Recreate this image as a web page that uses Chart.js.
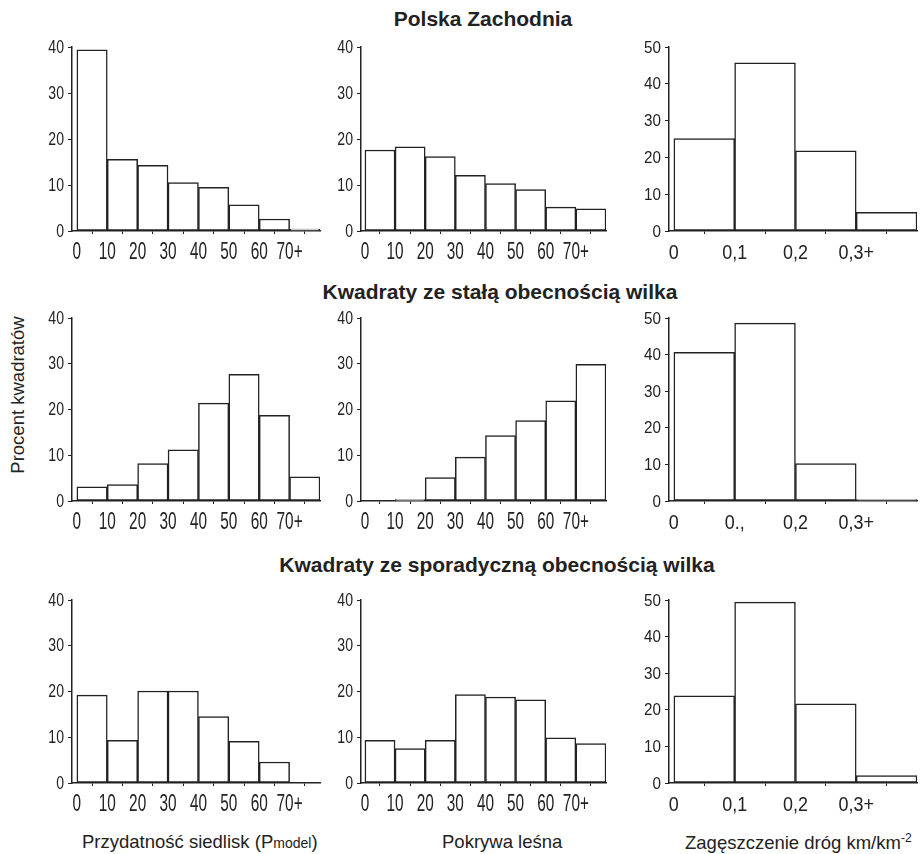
<!DOCTYPE html>
<html>
<head>
<meta charset="utf-8">
<script src="https://cdn.jsdelivr.net/npm/chart.js@4.4.0/dist/chart.umd.min.js"></script>
<style>
body { margin:0; background:#fff; width:921px; height:854px; position:relative; overflow:hidden; font-family:"Liberation Sans", Arial, sans-serif; color:#222; }
canvas { position:absolute; }
.title { position:absolute; transform:translateX(-50%); font-weight:bold; font-size:21px; line-height:normal; white-space:nowrap; }
.xlab { position:absolute; font-size:18.5px; white-space:nowrap; }
.ylab { position:absolute; font-size:18.5px; white-space:nowrap; transform:translate(-50%,-50%) rotate(-90deg); }
</style>
</head>
<body>
<div class="title" style="left:483px; top:7px;">Polska Zachodnia</div>
<div class="title" style="left:500px; top:280px;">Kwadraty ze stałą obecnością wilka</div>
<div class="title" style="left:497px; top:553px;">Kwadraty ze sporadyczną obecnością wilka</div>
<div class="ylab" style="left:18px; top:395px;">Procent kwadratów</div>
<div class="xlab" style="left:82px; top:831px;">Przydatność siedlisk (P<span style="font-size:14px">model</span>)</div>
<div class="xlab" style="left:442px; top:831px;">Pokrywa leśna</div>
<div class="xlab" style="left:685px; top:831px;">Zagęszczenie dróg km/km<sup style="font-size:12px">-2</sup></div>

<canvas id="c11" width="301" height="228" style="left:27px; top:35px;"></canvas>
<canvas id="c12" width="298" height="228" style="left:316px; top:35px;"></canvas>
<canvas id="c13" width="297" height="228" style="left:624px; top:35px;"></canvas>
<canvas id="c21" width="301" height="227" style="left:27px; top:306px;"></canvas>
<canvas id="c22" width="298" height="227" style="left:316px; top:306px;"></canvas>
<canvas id="c23" width="297" height="227" style="left:624px; top:306px;"></canvas>
<canvas id="c31" width="301" height="227" style="left:27px; top:588px;"></canvas>
<canvas id="c32" width="298" height="227" style="left:316px; top:588px;"></canvas>
<canvas id="c33" width="297" height="227" style="left:624px; top:588px;"></canvas>

<script>
// bin edges and tick labels
var pctEdges = [0, 10, 20, 30, 40, 50, 60, 70];
var pctLabels = ["0", "10", "20", "30", "40", "50", "60", "70+"];
var roadEdges = [0, 0.1, 0.2, 0.3];
var roadLabels = ["0", "0,1", "0,2", "0,3+"];
var roadLabels2 = ["0", "0.,", "0,2", "0,3+"];

// Polska Zachodnia
var zachHabitat = [39.4, 15.6, 14.3, 10.5, 9.5, 5.7, 2.6, 0.4];
var zachForest = [17.6, 18.3, 16.2, 12.1, 10.3, 9.0, 5.2, 4.8];
var zachRoads = [25.1, 45.7, 21.8, 5.1];
// stała obecność
var staleHabitat = [3.1, 3.6, 8.2, 11.2, 21.4, 27.7, 18.7, 5.3];
var staleForest = [0, 0.3, 5.1, 9.6, 14.3, 17.6, 21.9, 29.9];
var staleRoads = [40.6, 48.6, 10.2, 0.4];
// sporadyczna obecność
var sporHabitat = [19.2, 9.3, 20.1, 20.1, 14.5, 9.1, 4.6, 0];
var sporForest = [9.3, 7.5, 9.3, 19.3, 18.8, 18.2, 9.9, 8.6];
var sporRoads = [23.8, 49.4, 21.6, 2.0];

Chart.defaults.color = "#222";

// condensed tick labels (no narrow font installed, so squeeze horizontally)
var squeezeTicks = {
	id: "squeezeTicks",
	afterDraw: function(chart, args, o){
		var ctx = chart.ctx, xs = chart.scales.x, ys = chart.scales.y;
		var base = chart.chartArea.bottom, left = chart.chartArea.left;
		ctx.save();
		ctx.fillStyle = "#222";
		ctx.textBaseline = "alphabetic";
		ctx.font = o.xFont;
		ctx.textAlign = "center";
		o.edges.forEach(function(v, i){
			ctx.save();
			ctx.translate(xs.getPixelForValue(v), base + 28);
			ctx.scale(o.xSqueeze, 1);
			ctx.fillText(o.labels[i], 0, 0);
			ctx.restore();
		});
		ctx.font = o.yFont;
		ctx.textAlign = "right";
		ys.ticks.forEach(function(t){
			ctx.save();
			ctx.translate(left - 8, ys.getPixelForValue(t.value) + 5.5);
			ctx.scale(o.ySqueeze, 1);
			ctx.fillText(String(t.value), 0, 0);
			ctx.restore();
		});
		ctx.restore();
	}
};

function histogram(id, edges, labels, values, binW, xMin, yMax, isRoad, padRight){
	var pts = [];
	for (var i = 0; i < edges.length; i++)
		pts.push({x: edges[i] + binW / 2, y: values[i]});
	return new Chart(document.getElementById(id), {
	type: "bar",
	data:{
		datasets:[{
			data: pts,
			backgroundColor: "#fff",
			borderColor: "#222",
			borderWidth: 1.5,
			borderSkipped: false,
			barPercentage: 1,
			categoryPercentage: 1
		}]
	},
	plugins: [squeezeTicks],
	options:{
		responsive: false,
		animation: false,
		layout: {padding: {top: 12, right: padRight, left: 0, bottom: 0}},
		plugins: {
			legend: {display: false},
			tooltip: {enabled: false},
			squeezeTicks: {
				edges: edges,
				labels: labels,
				xFont: isRoad ? "19.5px 'Liberation Sans', Arial" : "24px 'Liberation Sans', Arial",
				xSqueeze: isRoad ? 0.92 : 0.64,
				yFont: isRoad ? "16px 'Liberation Sans', Arial" : "19px 'Liberation Sans', Arial",
				ySqueeze: isRoad ? 0.95 : 0.74
			}
		},
		scales: {
			x: {
				type: "linear",
				offset: false,
				min: xMin,
				max: edges[edges.length - 1] + binW,
				afterBuildTicks: function(s){ s.ticks = edges.map(function(v){ return {value: v}; }); },
				afterFit: function(s){ s.height = 32; },
				grid: {drawOnChartArea: false, tickLength: 3, color: "#222", lineWidth: 1},
				border: {color: "#222", width: 1.5},
				ticks: {display: false, autoSkip: false}
			},
			y: {
				min: 0,
				max: yMax,
				afterFit: function(s){ s.width = 45; },
				grid: {drawOnChartArea: false, tickLength: 4, color: "#222", lineWidth: 1},
				border: {color: "#222", width: 1.5},
				ticks: {display: false, stepSize: 10}
			}
		}
	}
});
}

histogram("c11", pctEdges, pctLabels, zachHabitat, 10, -1.6, 40, false, 8);
histogram("c12", pctEdges, pctLabels, zachForest, 10, -1.3, 40, false, 8);
histogram("c13", roadEdges, roadLabels, zachRoads, 0.1, -0.008, 50, true, 4);
histogram("c21", pctEdges, pctLabels, staleHabitat, 10, -1.6, 40, false, 8);
histogram("c22", pctEdges, pctLabels, staleForest, 10, -1.3, 40, false, 8);
histogram("c23", roadEdges, roadLabels2, staleRoads, 0.1, -0.008, 50, true, 4);
histogram("c31", pctEdges, pctLabels, sporHabitat, 10, -1.6, 40, false, 8);
histogram("c32", pctEdges, pctLabels, sporForest, 10, -1.3, 40, false, 8);
histogram("c33", roadEdges, roadLabels, sporRoads, 0.1, -0.008, 50, true, 4);
</script>
</body>
</html>
